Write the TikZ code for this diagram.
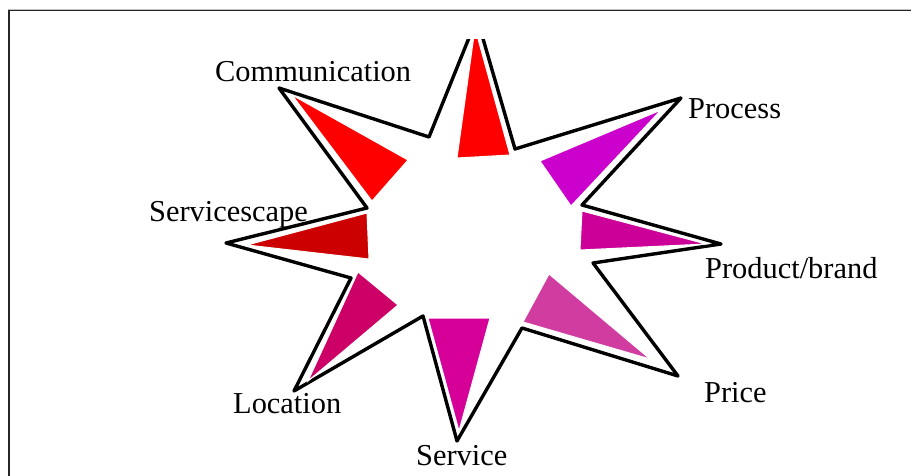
\documentclass[tikz,border=0pt]{standalone}
\usepackage{fontspec}
\setmainfont{Liberation Serif}
\begin{document}
\begin{tikzpicture}[x=1pt,y=-1pt,
  outline/.style={draw=black,line width=3.4pt,line join=round},
  wedge/.style={draw=white,line width=1pt,line join=miter},
  lbl/.style={anchor=base west,inner sep=0pt,font=\fontsize{30.4}{36}\selectfont}]
\useasboundingbox (0,0) rectangle (911,476);
\fill[white] (0,0) rectangle (911,476);
% frame
\draw[gray!50,line width=1pt] (8,9.3) -- (911,9.3);
\draw[black!85,line width=1.4pt] (8.8,476) -- (8.8,10.8) -- (911,10.8);
% star tips and inner vertices
\coordinate (tN) at (477,18);
\coordinate (iNP) at (515,149);
\coordinate (tPr) at (681,98);
\coordinate (iPP) at (582,205);
\coordinate (tPb) at (721,244);
\coordinate (iPbPc) at (593,263);
\coordinate (tPc) at (678,376);
\coordinate (iPcS) at (522,328);
\coordinate (tS) at (457,441);
\coordinate (iSL) at (423,316);
\coordinate (tL) at (294,391);
\coordinate (iLSc) at (351,278);
\coordinate (tSc) at (226,243);
\coordinate (iScC) at (367,208);
\coordinate (tC) at (279,88);
\coordinate (iCN) at (429,137);
\begin{scope}
\clip (0,40) rectangle (911,476);
\draw[outline] (tN) -- (iNP) -- (tPr) -- (iPP) -- (tPb) -- (iPbPc) -- (tPc) -- (iPcS)
  -- (tS) -- (iSL) -- (tL) -- (iLSc) -- (tSc) -- (iScC) -- (tC) -- (iCN) -- cycle;
% wedges
\filldraw[wedge,fill={rgb,255:red,255;green,0;blue,0}] (475,28) -- (510,155) -- (457,158) -- cycle;
\filldraw[wedge,fill={rgb,255:red,255;green,0;blue,0}] (292,95) -- (408,160) -- (372,201) -- cycle;
\filldraw[wedge,fill={rgb,255:red,204;green,0;blue,204}] (661,110) -- (571,206) -- (540,161) -- cycle;
\filldraw[wedge,fill={rgb,255:red,204;green,0;blue,153}] (706,244) -- (580,250) -- (582,211) -- cycle;
\filldraw[wedge,fill={rgb,255:red,208;green,60;blue,160}] (650,359) -- (523,322) -- (549,274) -- cycle;
\filldraw[wedge,fill={rgb,255:red,214;green,0;blue,153}] (459,431) -- (428,318) -- (490,318) -- cycle;
\filldraw[wedge,fill={rgb,255:red,204;green,0;blue,102}] (308,381) -- (358,272) -- (398,305) -- cycle;
\filldraw[wedge,fill={rgb,255:red,204;green,0;blue,0}] (247,245) -- (367,213) -- (369,259) -- cycle;
\end{scope}
% labels
\node[lbl] (communication) at (215,82) {Communication};
\node[lbl] (process) at (688,119) {Process};
\node[lbl] (product) at (705,278) {Product/brand};
\node[lbl] (price) at (704,402) {Price};
\node[lbl] (service) at (416,465) {Service};
\node[lbl] (location) at (233,413) {Location};
\node[lbl] (servicescape) at (149,222) {Servicescape};
\end{tikzpicture}
\end{document}
